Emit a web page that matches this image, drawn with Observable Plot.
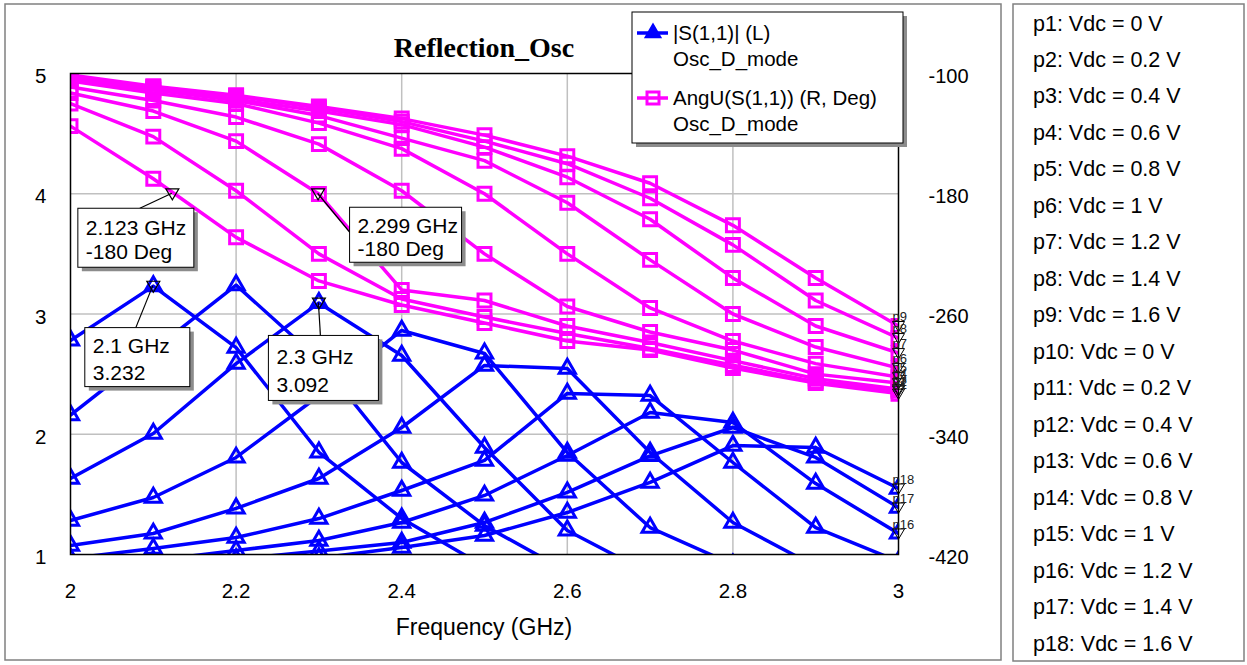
<!DOCTYPE html>
<html>
<head>
<meta charset="utf-8">
<script src="https://cdn.jsdelivr.net/npm/d3@7"></script>
<script src="https://cdn.jsdelivr.net/npm/@observablehq/plot@0.6"></script>
<style>
  body { margin: 0; background: #fff; }
  #chart { position: relative; width: 1247px; height: 665px; }
</style>
</head>
<body>
<div id="chart"></div>
<script>
// ---------------- data ----------------
const freqGHz = [2.0, 2.1, 2.2, 2.3, 2.4, 2.5, 2.6, 2.7, 2.8, 2.9, 3.0];
const xTicks = [2, 2.2, 2.4, 2.6, 2.8, 3];
const leftTicks = [1, 2, 3, 4, 5];
const rightTickLabels = ["-420", "-340", "-260", "-180", "-100"];

const paramNames = ["p1","p2","p3","p4","p5","p6","p7","p8","p9","p10","p11","p12","p13","p14","p15","p16","p17","p18"];
const vdcValues = ["0","0.2","0.4","0.6","0.8","1","1.2","1.4","1.6","0","0.2","0.4","0.6","0.8","1","1.2","1.4","1.6"];

// AngU(S(1,1)) in degrees (right axis), p1..p9
const angP1 = [-135, -170, -209, -238, -254, -266, -278, -284, -296, -306, -313];
const angP2 = [-120, -142, -178, -220, -250, -262, -273, -283, -294, -305, -311];
const angP3 = [-113, -125, -145, -180.2, -244, -251, -268, -279, -291, -303, -310];
const angP4 = [-109, -118, -129, -147, -178, -220, -255, -272, -284, -300, -306];
const angP5 = [-105, -113, -120, -133, -150, -180, -220, -256, -278, -293, -302];
const angP6 = [-104, -111, -118, -128, -143, -158, -186, -224, -260, -282, -296];
const angP7 = [-103, -110, -117, -125, -134, -149, -169, -197, -236, -268, -286];
const angP8 = [-102, -109, -115, -123, -132, -145, -160, -183, -214, -251, -276];
const angP9 = [-101, -108.5, -114.5, -122, -130, -141, -155, -173, -201, -236, -268];

// |S(1,1)| (left axis), p10..p18
const magP10 = [2.78, 3.232, 2.72, 1.85, 1.30, 0.90, null, null, null, null, null];
const magP11 = [2.16, 2.70, 3.24, 2.62, 1.765, 1.24, 0.86, null, null, null, null];
const magP12 = [1.632, 2.006, 2.588, 3.092, 2.655, 1.89, 1.20, 0.84, null, null, null];
const magP13 = [1.283, 1.474, 1.807, 2.32, 2.863, 2.672, 1.848, 1.224, 0.917, null, null];
const magP14 = [1.075, 1.175, 1.383, 1.632, 2.056, 2.572, 2.547, 1.848, 1.266, 0.90, null];
const magP15 = [0.967, 1.05, 1.141, 1.299, 1.532, 1.782, 2.339, 2.322, 1.765, 1.224, 0.942];
const magP16 = [0.87, 0.95, 1.033, 1.116, 1.266, 1.491, 1.823, 2.181, 2.098, 1.59, 1.175];
const magP17 = [0.80, 0.88, 0.96, 1.03, 1.10, 1.266, 1.516, 1.82, 2.056, 1.807, 1.391];
const magP18 = [0.72, 0.80, 0.88, 0.97, 1.058, 1.158, 1.349, 1.599, 1.906, 1.89, 1.549];

// marker readouts
const readoutFreq = [2.123, 2.299, 2.1, 2.3];
const readoutValue = [-180, -180, 3.232, 3.092];
const readoutAxis = ["R", "R", "L", "L"];
const readoutLine1 = ["2.123 GHz", "2.299 GHz", "2.1 GHz", "2.3 GHz"];
const readoutLine2 = ["-180 Deg", "-180 Deg", "3.232", "3.092"];

const legendLabels = ["|S(1,1)| (L)", "Osc_D_mode", "AngU(S(1,1)) (R, Deg)", "Osc_D_mode"];
const titleText = "Reflection_Osc";
const xLabelText = "Frequency (GHz)";

// ---------------- build tables ----------------
const toLeft = d => 5 + (d + 100) / 80;   // right axis (deg) -> left-axis units
const angSeries = [angP1, angP2, angP3, angP4, angP5, angP6, angP7, angP8, angP9];
const magSeries = [magP10, magP11, magP12, magP13, magP14, magP15, magP16, magP17, magP18];

const angRows = angSeries.flatMap((arr, i) => arr.map((v, j) => ({f: freqGHz[j], v: v == null ? null : toLeft(v), s: paramNames[i]})));
const magRows = magSeries.flatMap((arr, i) => arr.map((v, j) => ({f: freqGHz[j], v, s: paramNames[i + 9]})));

const endRows = [
  ...angSeries.map((arr, i) => ({f: freqGHz[freqGHz.length - 1], v: toLeft(arr[arr.length - 1]), label: paramNames[i]})),
  ...magSeries.slice(6).map((arr, i) => ({f: freqGHz[freqGHz.length - 1], v: arr[arr.length - 1], label: paramNames[i + 15]}))
];
const readRows = readoutFreq.map((f, i) => ({f, v: readoutAxis[i] === "R" ? toLeft(readoutValue[i]) : readoutValue[i]}));

const triDown = {
  draw(ctx, size) {
    const a = Math.sqrt(size / Math.PI);
    ctx.moveTo(-a, -a * 0.75);
    ctx.lineTo(a, -a * 0.75);
    ctx.lineTo(0, a * 0.95);
    ctx.closePath();
  }
};

const BLUE = "#0000ff", MAG = "#ff00ff", GRID = "#c0c0c0";
const SANS = "'Liberation Sans', Arial, sans-serif";

const plot = Plot.plot({
  width: 1247,
  height: 665,
  marginLeft: 70,
  marginRight: 349,
  marginTop: 73,
  marginBottom: 111,
  x: {domain: [2, 3]},
  y: {domain: [1, 5]},
  style: {fontFamily: SANS, fontSize: "20px", color: "#000", background: "#fff", overflow: "visible"},
  marks: [
    Plot.gridX(xTicks.slice(1, -1), {stroke: GRID, strokeOpacity: 1, strokeWidth: 1.5}),
    Plot.gridY(leftTicks.slice(1, -1), {stroke: GRID, strokeOpacity: 1, strokeWidth: 1.5}),
    Plot.axisX({ticks: xTicks, tickSize: 0, tickPadding: 29, fontSize: 20.5, tickFormat: d => String(+d.toFixed(1)), label: null}),
    Plot.axisY({ticks: leftTicks, tickSize: 0, tickPadding: 24, fontSize: 20.5, dy: 3, tickFormat: d => String(d), label: null}),
    Plot.axisY({anchor: "right", ticks: leftTicks, tickSize: 0, tickPadding: 30, fontSize: 20, dy: 3,
      tickFormat: d => rightTickLabels[leftTicks.indexOf(d)], label: null}),
    Plot.line(magRows, {x: "f", y: "v", z: "s", stroke: BLUE, strokeWidth: 3.5, clip: true}),
    Plot.dot(magRows.filter(d => d.v != null), {x: "f", y: "v", symbol: "triangle", r: 6, stroke: BLUE, strokeWidth: 3, fill: "none", clip: true}),
    Plot.line(angRows, {x: "f", y: "v", z: "s", stroke: MAG, strokeWidth: 3.5, clip: true}),
    Plot.dot(angRows.filter(d => d.v != null), {x: "f", y: "v", symbol: "square", r: 7.3, stroke: MAG, strokeWidth: 3, fill: "none", clip: true}),
    Plot.frame({stroke: "#000", strokeWidth: 1.5}),
    Plot.dot(endRows, {x: "f", y: "v", symbol: triDown, r: 6, stroke: "#000", strokeWidth: 1, fill: "none"}),
    Plot.text(endRows, {x: "f", y: "v", text: "label", dx: -6, dy: -9, textAnchor: "start", fontSize: 13, fill: "#222"}),
    Plot.dot(readRows, {x: "f", y: "v", symbol: triDown, r: 6.5, stroke: "#000", strokeWidth: 1.2, fill: "none"})
  ]
});

document.getElementById("chart").appendChild(plot);

// ---------------- decorations ----------------
const svg = d3.select(plot);
const X = v => plot.scale("x").apply(v);
const Y = v => plot.scale("y").apply(v);

// outer frames
svg.append("rect").attr("x", 5).attr("y", 4).attr("width", 996).attr("height", 656)
  .attr("fill", "none").attr("stroke", "#808080").attr("stroke-width", 1.5);
svg.append("rect").attr("x", 1013).attr("y", 4).attr("width", 231).attr("height", 657)
  .attr("fill", "none").attr("stroke", "#808080").attr("stroke-width", 1.5);

// title & x label
svg.append("text").attr("x", 484).attr("y", 47).attr("dy", "0.35em").attr("text-anchor", "middle")
  .attr("font-family", "'Liberation Serif', 'Times New Roman', serif").attr("font-weight", "bold")
  .attr("font-size", 28).text(titleText);
svg.append("text").attr("x", 484).attr("y", 627).attr("dy", "0.35em").attr("text-anchor", "middle")
  .attr("font-family", SANS).attr("font-size", 23).text(xLabelText);

// parameter list
paramNames.forEach((p, i) => {
  svg.append("text").attr("x", 1033).attr("y", 23 + i * 36.47).attr("dy", "0.35em").attr("text-anchor", "start")
    .attr("font-family", SANS).attr("font-size", 21.5).text(`${p}: Vdc = ${vdcValues[i]} V`);
});

// legend box
const lg = svg.append("g");
lg.append("rect").attr("x", 636).attr("y", 16).attr("width", 271).attr("height", 131).attr("fill", "#8c8c8c");
lg.append("rect").attr("x", 632).attr("y", 12).attr("width", 271).attr("height", 131)
  .attr("fill", "#fff").attr("stroke", "#000").attr("stroke-width", 1);
const legRowY = [33, 59, 98, 124];
lg.append("line").attr("x1", 637).attr("x2", 668).attr("y1", legRowY[0]).attr("y2", legRowY[0]).attr("stroke", BLUE).attr("stroke-width", 3.5);
lg.append("path").attr("transform", `translate(653,${legRowY[0]})`).attr("d", d3.symbol(d3.symbolTriangle, 95)()).attr("fill", BLUE).attr("stroke", BLUE).attr("stroke-width", 2);
lg.append("line").attr("x1", 637).attr("x2", 668).attr("y1", legRowY[2]).attr("y2", legRowY[2]).attr("stroke", MAG).attr("stroke-width", 3.5);
lg.append("rect").attr("x", 647).attr("y", legRowY[2] - 6).attr("width", 12).attr("height", 12).attr("fill", "none").attr("stroke", MAG).attr("stroke-width", 3);
legendLabels.forEach((t, i) => {
  lg.append("text").attr("x", 673).attr("y", legRowY[i]).attr("dy", "0.35em").attr("text-anchor", "start")
    .attr("font-family", SANS).attr("font-size", 20.5).text(t);
});

// readout boxes (offsets relative to their marker)
const readoutLayout = [
  {bx: -94, by: 15, w: 116, h: 59, lx: -32, ly: 15, t1: 19, t2: 43},
  {bx: 32, by: 14, w: 112, h: 55, lx: 33, ly: 40, t1: 18, t2: 41},
  {bx: -68, by: 42, w: 105, h: 59, lx: -17, ly: 42, t1: 18, t2: 45},
  {bx: -50, by: 33, w: 110, h: 65, lx: 2, ly: 33, t1: 21, t2: 49}
];
readRows.forEach((d, i) => {
  const mx = X(d.f), my = Y(d.v), L = readoutLayout[i];
  const g = svg.append("g");
  g.append("line").attr("x1", mx).attr("y1", my).attr("x2", mx + L.lx).attr("y2", my + L.ly)
    .attr("stroke", "#000").attr("stroke-width", 1.2);
  g.append("rect").attr("x", mx + L.bx + 4).attr("y", my + L.by + 4).attr("width", L.w).attr("height", L.h).attr("fill", "#8c8c8c");
  g.append("rect").attr("x", mx + L.bx).attr("y", my + L.by).attr("width", L.w).attr("height", L.h)
    .attr("fill", "#fff").attr("stroke", "#000").attr("stroke-width", 1);
  g.append("text").attr("x", mx + L.bx + 8).attr("y", my + L.by + L.t1).attr("dy", "0.35em").attr("text-anchor", "start")
    .attr("font-family", SANS).attr("font-size", 21).text(readoutLine1[i]);
  g.append("text").attr("x", mx + L.bx + 8).attr("y", my + L.by + L.t2).attr("dy", "0.35em").attr("text-anchor", "start")
    .attr("font-family", SANS).attr("font-size", 21).text(readoutLine2[i]);
});
</script>
</body>
</html>
